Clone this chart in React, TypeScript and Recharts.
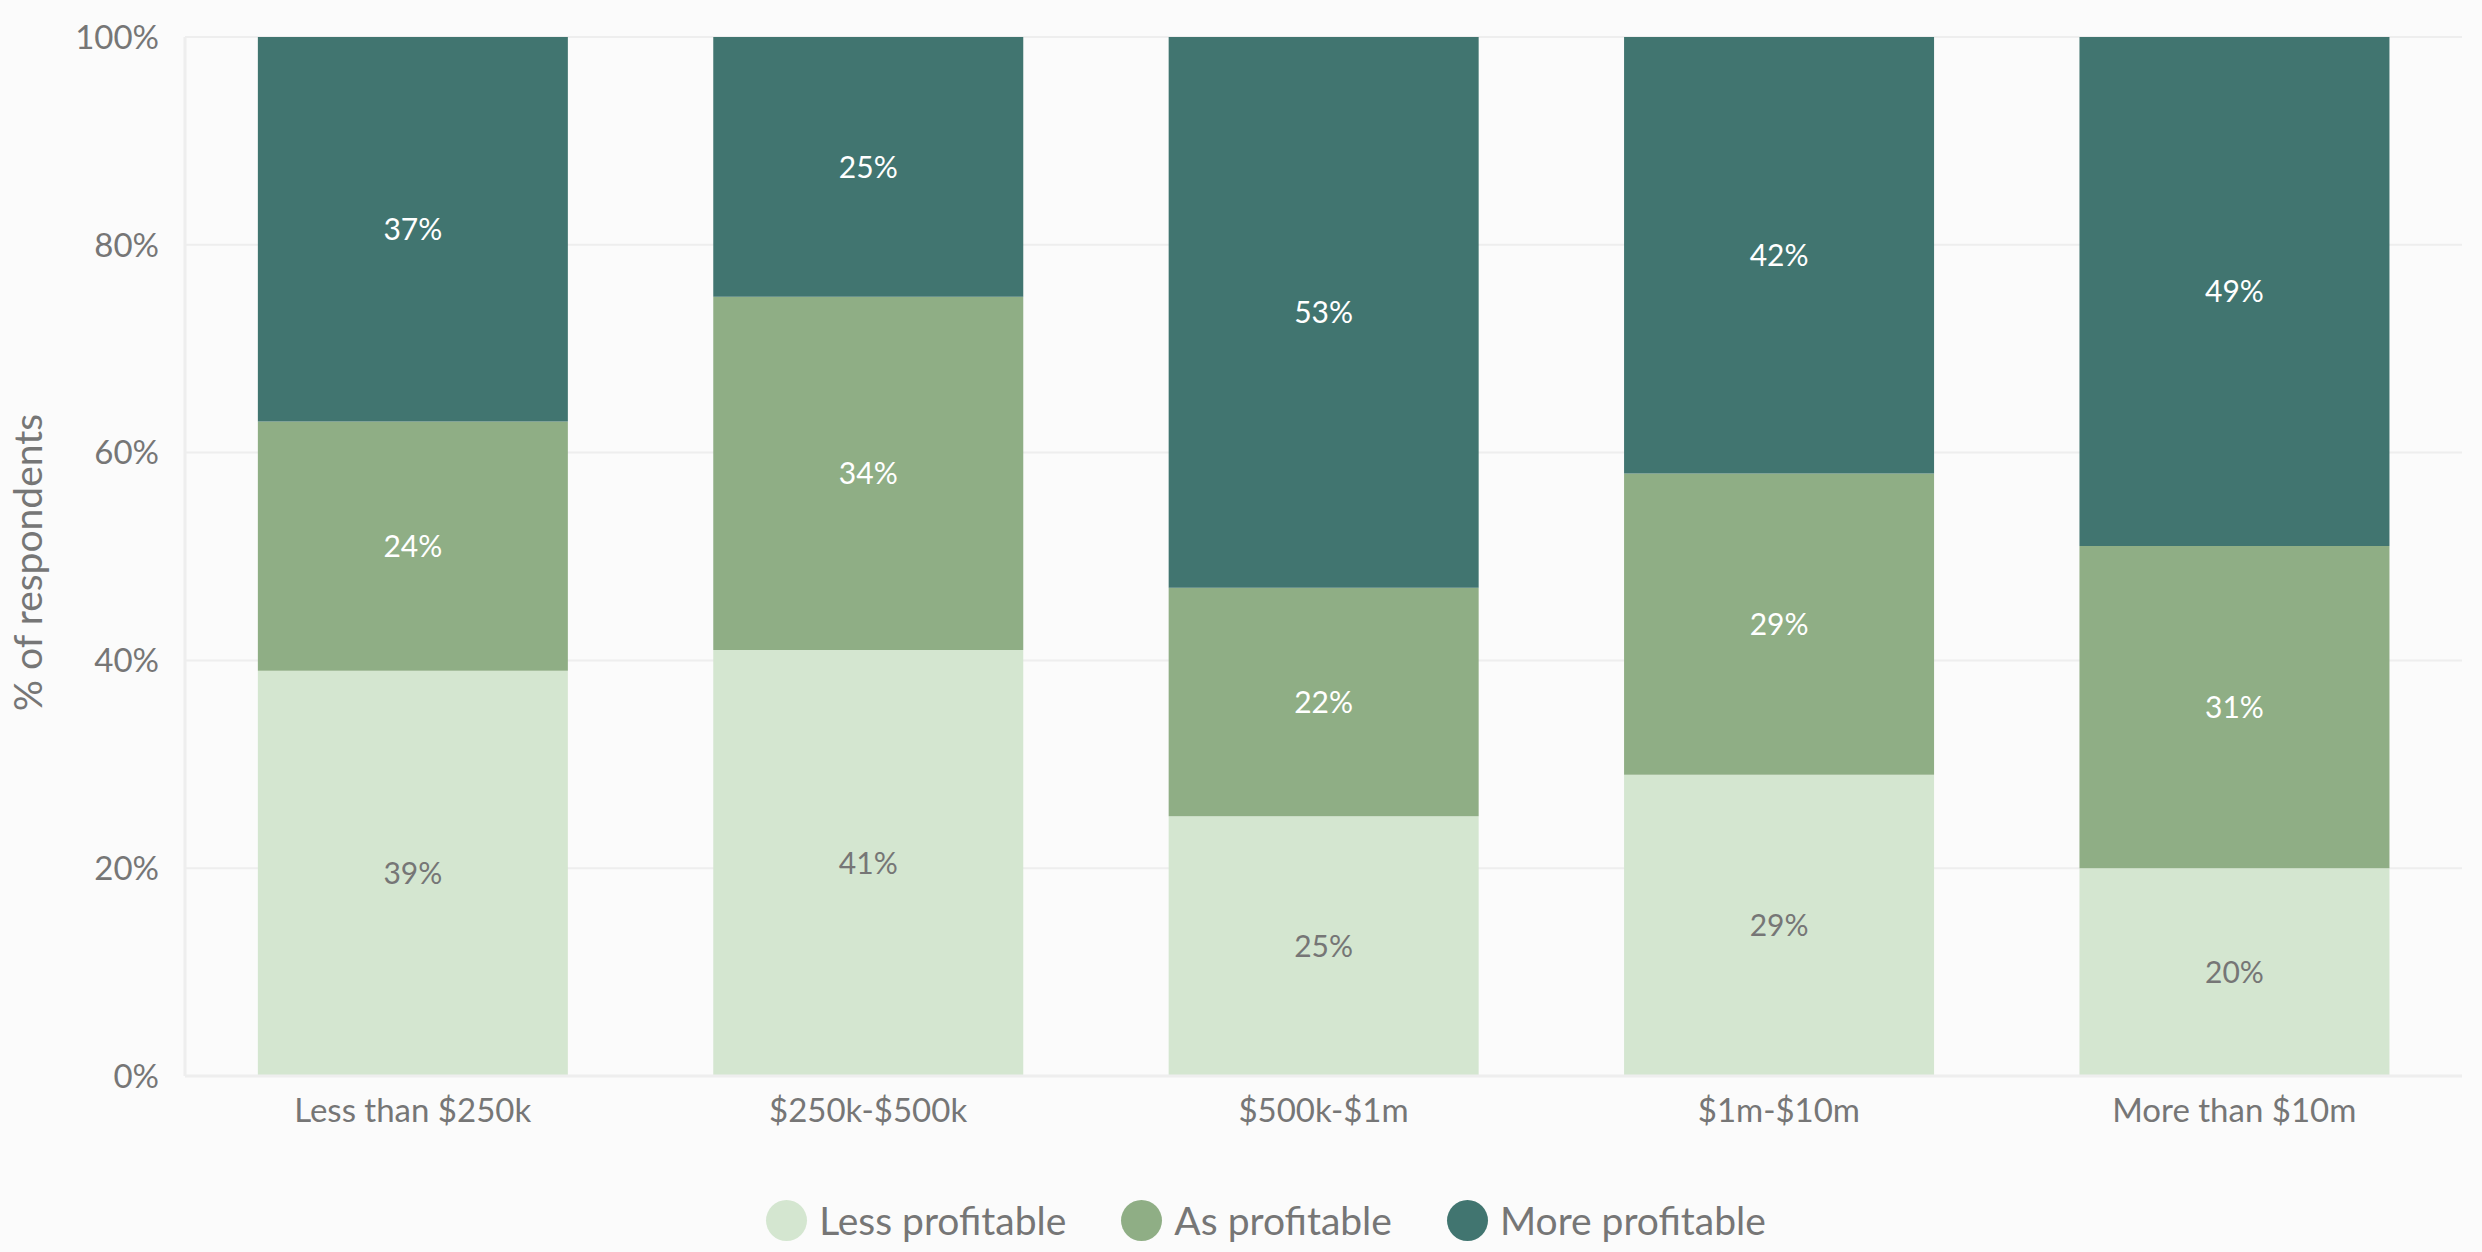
import { Bar, BarChart, CartesianGrid, LabelList, Legend, XAxis, YAxis } from 'recharts'

const categories = ['Less than $250k', '$250k-$500k', '$500k-$1m', '$1m-$10m', 'More than $10m']
const lessProfitable = [39, 41, 25, 29, 20]
const asProfitable = [24, 34, 22, 29, 31]
const moreProfitable = [37, 25, 53, 42, 49]
const yTicks = [0, 20, 40, 60, 80, 100]

const series = [
  { key: 'less', name: 'Less profitable', color: '#d4e6d0', text: '#767676' },
  { key: 'as', name: 'As profitable', color: '#8fae85', text: '#ffffff' },
  { key: 'more', name: 'More profitable', color: '#417570', text: '#ffffff' },
]

const data = categories.map((name, i) => ({
  name,
  less: lessProfitable[i],
  as: asProfitable[i],
  more: moreProfitable[i],
}))

const FONT = 'Lato, sans-serif'
const GREY = '#767676'

function YTitle(props: any) {
  const { viewBox } = props
  const cy = viewBox.y + viewBox.height / 2 + 6
  return (
    <text
      x={27}
      y={cy}
      transform={`rotate(-90, 27, ${cy})`}
      textAnchor="middle"
      dominantBaseline="central"
      fill={GREY}
      fontSize={39}
      fontFamily={FONT}
    >
      % of respondents
    </text>
  )
}

function LegendContent() {
  return (
    <div
      style={{
        display: 'flex',
        justifyContent: 'center',
        alignItems: 'center',
        height: 64,
        gap: 55,
        marginLeft: 70,
      }}
    >
      {series.map((s) => (
        <div key={s.key} style={{ display: 'flex', alignItems: 'center', gap: 12 }}>
          <span style={{ width: 41, height: 41, borderRadius: 21, background: s.color, display: 'inline-block' }} />
          <span style={{ color: GREY, fontSize: 39, fontFamily: FONT }}>{s.name}</span>
        </div>
      ))}
    </div>
  )
}

export default function App() {
  return (
    <div style={{ position: 'absolute', left: 0, top: 0, width: 2482, height: 1252, background: '#fbfbfb' }}>
      <BarChart
        width={2482}
        height={1252}
        data={data}
        margin={{ top: 37, right: 20, bottom: 0, left: 0 }}
        barCategoryGap="16%"
      >
        <CartesianGrid vertical={false} stroke="#eeeeee" strokeWidth={2} />
        <XAxis
          dataKey="name"
          height={112}
          tickLine={false}
          tickSize={0}
          tickMargin={23}
          stroke="#eeeeee"
          strokeWidth={3}
          tick={{ fill: GREY, fontSize: 33, fontFamily: FONT }}
        />
        <YAxis
          width={185}
          domain={[0, 100]}
          ticks={yTicks}
          tickFormatter={(v) => `${v}%`}
          tickLine={false}
          tickSize={0}
          tickMargin={26}
          stroke="#eeeeee"
          strokeWidth={3}
          tick={{ fill: GREY, fontSize: 33, fontFamily: FONT }}
          label={<YTitle />}
        />
        <Legend verticalAlign="bottom" height={64} content={<LegendContent />} />
        {series.map((s) => (
          <Bar key={s.key} dataKey={s.key} name={s.name} stackId="a" fill={s.color} isAnimationActive={false}>
            <LabelList
              dataKey={s.key}
              position="center"
              formatter={(v: any) => `${v}%`}
              fill={s.text}
              fontSize={30}
              fontFamily={FONT}
            />
          </Bar>
        ))}
      </BarChart>
    </div>
  )
}
